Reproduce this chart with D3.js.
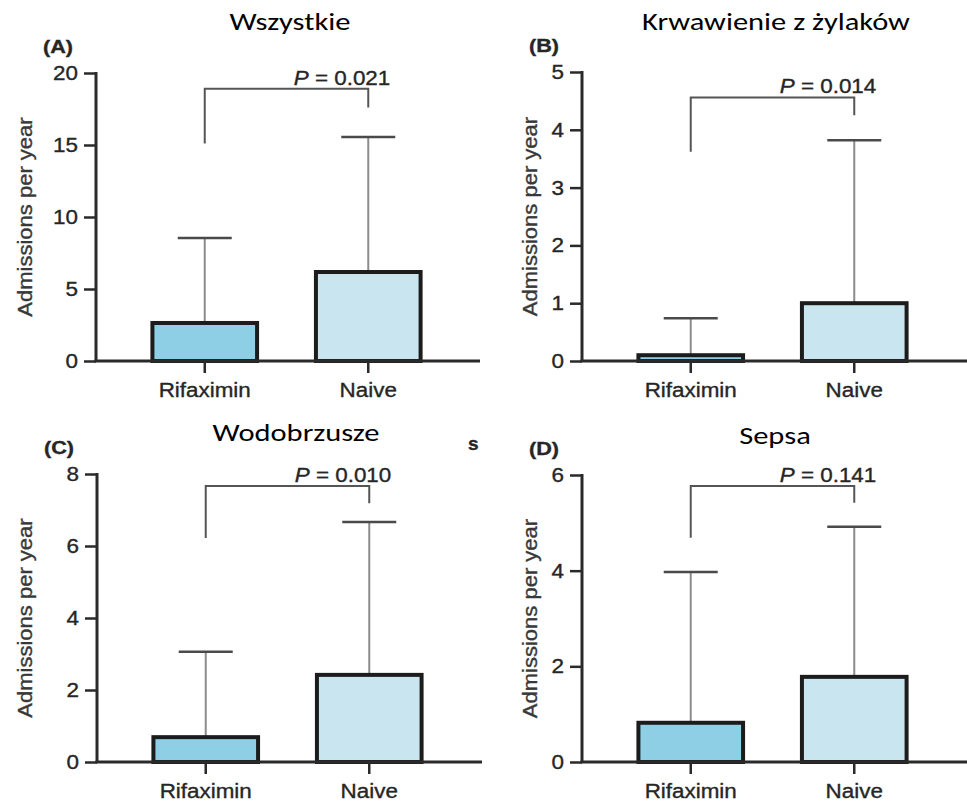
<!DOCTYPE html>
<html>
<head>
<meta charset="utf-8">
<script src="https://cdn.jsdelivr.net/npm/d3@7/dist/d3.min.js"></script>
<style>
  html, body { margin: 0; padding: 0; background: #fff; }
  svg { display: block; }
</style>
</head>
<body>
<svg id="chart" width="967" height="803"></svg>
<script>
// ---- data ----
const panelLetters = ["(A)", "(B)", "(C)", "(D)"];
const titles = ["Wszystkie", "Krwawienie z żylaków", "Wodobrzusze", "Sepsa"];
const groups = ["Rifaximin", "Naive"];
const meanRifaximin = [2.64, 0.10, 0.69, 0.82];
const meanNaive = [6.18, 1.00, 2.42, 1.78];
const upperRifaximin = [8.54, 0.74, 3.06, 3.97];
const upperNaive = [15.56, 3.82, 6.67, 4.92];
const yMax = [20, 5, 8, 6];
const yTickStep = [5, 1, 2, 2];
const pValues = ["0.021", "0.014", "0.010", "0.141"];
const bracketLevel = [18.9, 4.56, 7.67, 5.77];
const bracketLeftEnd = [15.1, 3.62, 6.22, 4.69];
const bracketRightEnd = [17.6, 4.25, 7.19, 5.42];
const yLabel = "Admissions per year";

// ---- layout ----
const layout = [
  { ax: 96,  y0: 361, yTop: 73,  xEnd: 480, labelX: 25,  titleX: 290, titleY: 30 },
  { ax: 582, y0: 361, yTop: 72,  xEnd: 967, labelX: 530, titleX: 776, titleY: 30 },
  { ax: 97,  y0: 762, yTop: 474, xEnd: 482, labelX: 25,  titleX: 296, titleY: 441 },
  { ax: 582, y0: 762, yTop: 475, xEnd: 967, labelX: 530, titleX: 775, titleY: 444 }
];
const fills = ["#8ecfe6", "#c9e6f0"];
const sansFont = "'Liberation Sans', Arial, Helvetica, sans-serif";
const titleFont = "Carlito, Lato, 'Noto Sans', sans-serif";
const STRETCH = 1.12;
const inkColor = "#262626";

function stretch(sel, f) {
  sel.each(function () {
    const w = this.getComputedTextLength();
    this.setAttribute("textLength", (w * f).toFixed(1));
    this.setAttribute("lengthAdjust", "spacingAndGlyphs");
  });
}
// slightly heavier strokes for the figure's sans-serif labels
function ink(sel, size) {
  sel.attr("font-family", sansFont).attr("font-size", size)
    .attr("fill", inkColor).attr("stroke", inkColor).attr("stroke-width", 0.35);
}

const svg = d3.select("#chart");

layout.forEach((L, i) => {
  const g = svg.append("g");
  const y = d3.scaleLinear().domain([0, yMax[i]]).range([L.y0, L.yTop]);
  const x = d3.scaleBand().domain(groups)
    .range([L.ax, L.ax + 381]).paddingInner(0.36).paddingOuter(0.345);

  const means = [meanRifaximin[i], meanNaive[i]];
  const uppers = [upperRifaximin[i], upperNaive[i]];
  const rows = groups.map((k, j) => ({ key: k, mean: means[j], upper: uppers[j], fill: fills[j] }));

  // error bars (upper only), drawn under the bars
  g.selectAll(".stem").data(rows).join("line")
    .attr("x1", d => x(d.key) + x.bandwidth() / 2)
    .attr("x2", d => x(d.key) + x.bandwidth() / 2)
    .attr("y1", d => y(d.mean))
    .attr("y2", d => y(d.upper))
    .attr("stroke", "#8c8c8c").attr("stroke-width", 2);
  g.selectAll(".cap").data(rows).join("line")
    .attr("x1", d => x(d.key) + x.bandwidth() / 2 - 27)
    .attr("x2", d => x(d.key) + x.bandwidth() / 2 + 27)
    .attr("y1", d => y(d.upper))
    .attr("y2", d => y(d.upper))
    .attr("stroke", "#4a4a4a").attr("stroke-width", 2.5);

  // bars
  g.selectAll(".bar").data(rows).join("rect")
    .attr("x", d => x(d.key))
    .attr("y", d => y(d.mean))
    .attr("width", x.bandwidth())
    .attr("height", d => y(0) - y(d.mean))
    .attr("fill", d => d.fill)
    .attr("stroke", "#1c1c1c").attr("stroke-width", 4);

  // y axis
  const ticks = d3.range(0, yMax[i] + 1e-9, yTickStep[i]);
  const yAxis = g.append("g").attr("transform", `translate(${L.ax},0)`)
    .call(d3.axisLeft(y).tickValues(ticks).tickSize(12).tickPadding(6).tickFormat(d3.format("d")));
  yAxis.select(".domain").remove();
  yAxis.selectAll(".tick line").attr("stroke", "#2a2a2a").attr("stroke-width", 2.5);
  yAxis.selectAll(".tick text").call(ink, 20).call(stretch, STRETCH);
  g.append("line")
    .attr("x1", L.ax).attr("x2", L.ax).attr("y1", y(yMax[i]) - 1).attr("y2", L.y0 + 1)
    .attr("stroke", "#2a2a2a").attr("stroke-width", 3);

  // x axis
  const xAxis = g.append("g").attr("transform", `translate(0,${L.y0})`)
    .call(d3.axisBottom(x).tickSize(12).tickPadding(8));
  xAxis.select(".domain").remove();
  xAxis.selectAll(".tick line").attr("stroke", "#2a2a2a").attr("stroke-width", 2.5);
  xAxis.selectAll(".tick text").attr("dy", null).attr("y", 36)
    .call(ink, 20).call(stretch, STRETCH);
  g.append("line")
    .attr("x1", L.ax - 1.5).attr("x2", L.xEnd).attr("y1", L.y0).attr("y2", L.y0)
    .attr("stroke", "#2a2a2a").attr("stroke-width", 3);

  // y axis title
  g.append("text")
    .attr("transform", `translate(${L.labelX + 7},${(L.y0 + y(yMax[i])) / 2}) rotate(-90)`)
    .attr("text-anchor", "middle")
    .call(ink, 20).attr("fill", "#383838").attr("stroke", "#383838")
    .text(yLabel)
    .call(stretch, 1.1);

  // significance bracket
  const cx0 = x(groups[0]) + x.bandwidth() / 2;
  const cx1 = x(groups[1]) + x.bandwidth() / 2;
  const bracket = d3.path();
  bracket.moveTo(cx0, y(bracketLeftEnd[i]));
  bracket.lineTo(cx0, y(bracketLevel[i]));
  bracket.lineTo(cx1, y(bracketLevel[i]));
  bracket.lineTo(cx1, y(bracketRightEnd[i]));
  g.append("path").attr("d", bracket.toString())
    .attr("fill", "none").attr("stroke", "#555").attr("stroke-width", 2);

  const pText = g.append("text")
    .attr("x", cx1 + 22).attr("y", y(bracketLevel[i]) - 4)
    .attr("text-anchor", "end")
    .call(ink, 20);
  pText.append("tspan").attr("font-style", "italic").text("P");
  pText.append("tspan").text(" = " + pValues[i]);
  pText.call(stretch, STRETCH);

  // panel letter
  g.append("text")
    .attr("x", L.ax - 53).attr("y", L.yTop - 20)
    .call(ink, 18).attr("font-weight", "bold")
    .text(panelLetters[i])
    .call(stretch, 1.2);

  // panel title
  g.append("text")
    .attr("x", L.titleX).attr("y", L.titleY)
    .attr("text-anchor", "middle")
    .attr("font-family", titleFont).attr("font-size", 25).attr("fill", "#000")
    .text(titles[i])
    .call(stretch, 1.22);
});

// leftover glyph beside the third panel title
svg.append("text")
  .attr("x", 468).attr("y", 450)
  .call(ink, 19).attr("font-weight", "bold")
  .text("s");
</script>
</body>
</html>
